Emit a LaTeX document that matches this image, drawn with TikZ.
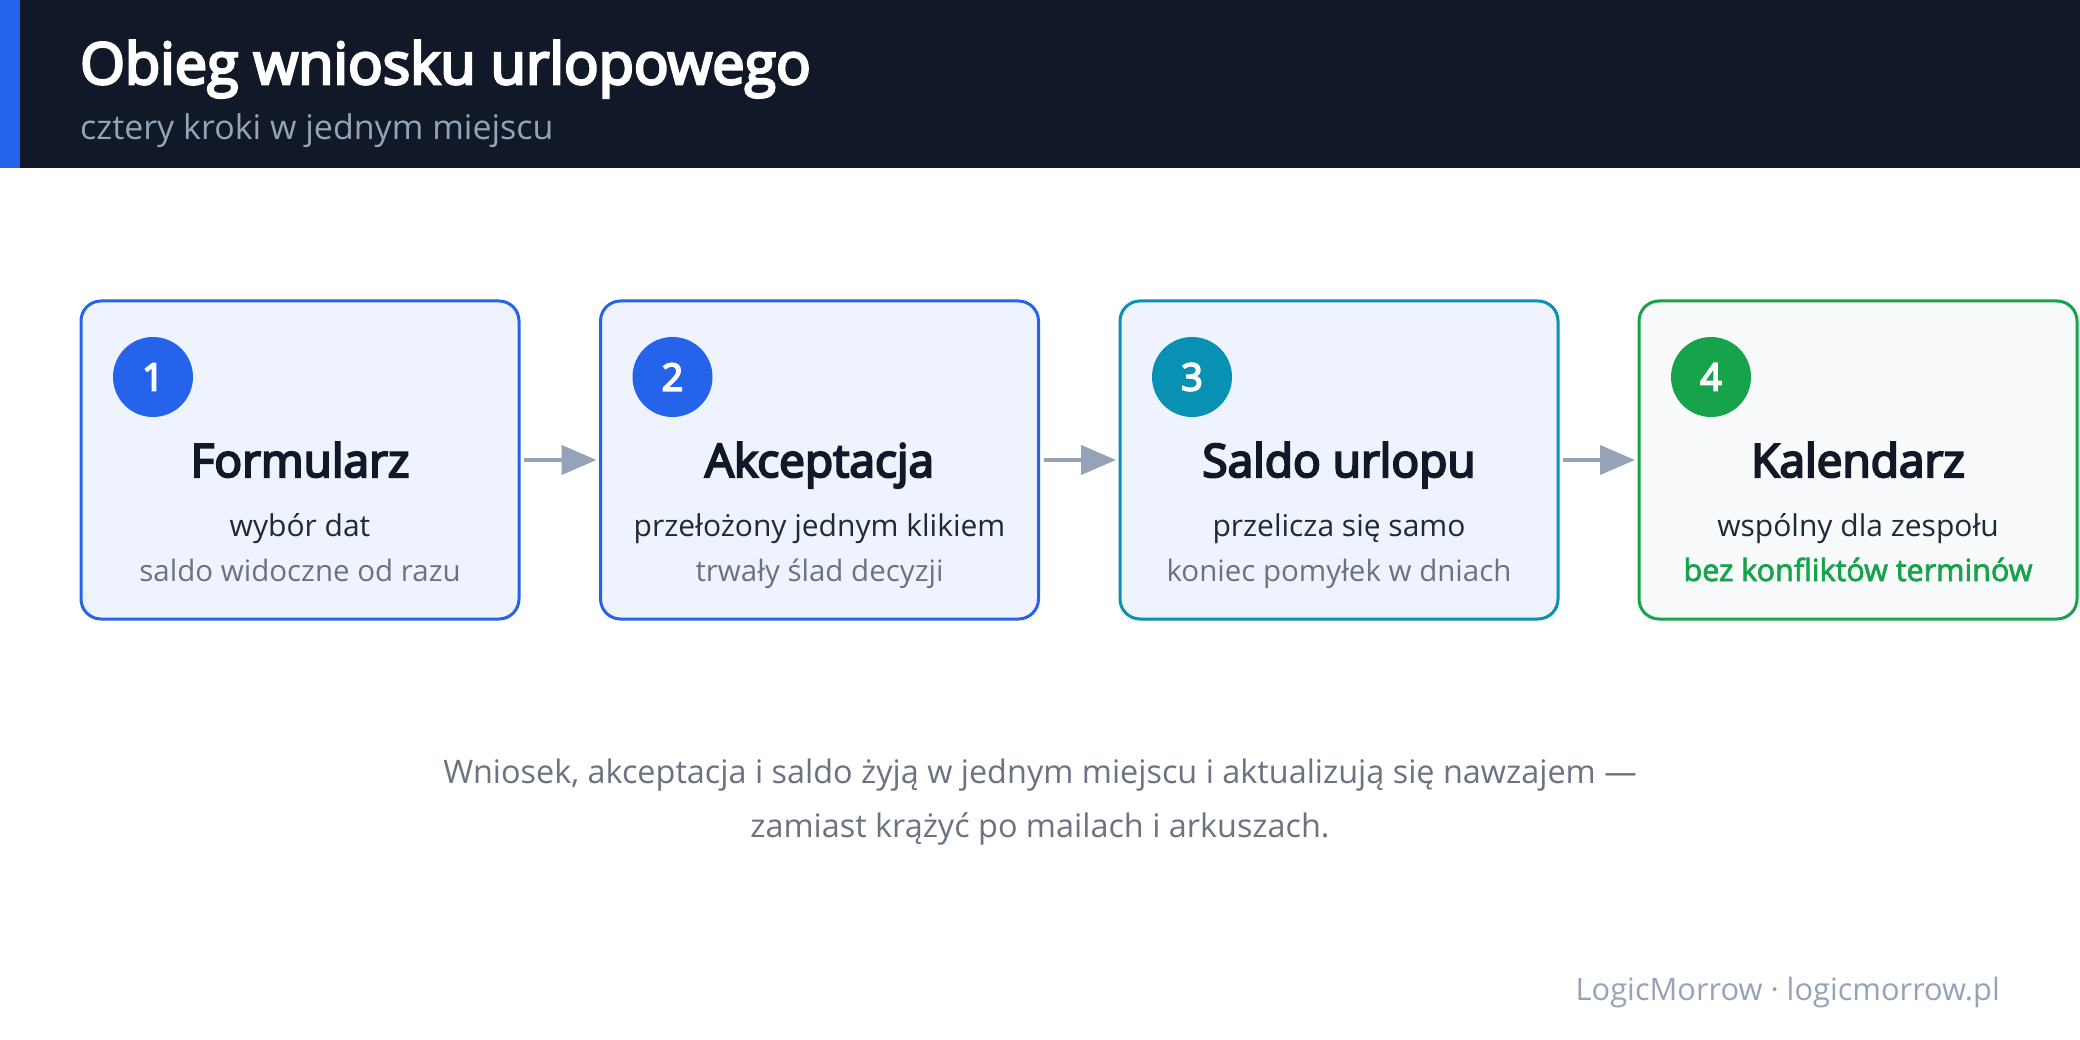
\documentclass[tikz,border=0pt]{standalone}
\usepackage{fontspec}
\setmainfont{Open Sans}[AutoFakeBold=2.5]
\newfontfamily\heavyfont{Open Sans}[AutoFakeBold=4.5, BoldFeatures={FakeBold=2}]
\usetikzlibrary{arrows.meta}
\definecolor{hdr}{HTML}{111827}
\definecolor{cblue}{HTML}{2563EB}
\definecolor{ccyan}{HTML}{0891B2}
\definecolor{cgreen}{HTML}{16A34A}
\definecolor{fillb}{HTML}{EEF3FE}
\definecolor{fillg}{HTML}{F8FAFC}
\definecolor{txtdark}{HTML}{111827}
\definecolor{txtmid}{HTML}{1F2937}
\definecolor{txtgray}{HTML}{6B7280}
\definecolor{slate}{HTML}{94A3B8}
\tikzset{
  stepbox/.style={draw, rounded corners=20pt, line width=3pt, minimum width=438pt, minimum height=318pt, inner sep=0pt, outer sep=0pt},
  numdot/.style={circle, minimum size=80pt, inner sep=0pt, outer sep=0pt, text=white, font=\heavyfont\fontsize{38}{40}\selectfont\bfseries},
  steptitle/.style={anchor=base, inner sep=0pt, text=txtdark, font=\heavyfont\fontsize{46}{52}\selectfont\bfseries},
  lineone/.style={anchor=base, inner sep=0pt, text=txtmid, font=\fontsize{30}{36}\selectfont},
  linetwo/.style={anchor=base, inner sep=0pt, text=txtgray, font=\fontsize{29.5}{35}\selectfont},
  flow/.style={draw=slate, line width=4pt, -{Triangle[length=35pt, width=29pt]}, shorten >=4pt, shorten <=5pt}
}
\begin{document}
\begin{tikzpicture}[x=1pt, y=-1pt]
\useasboundingbox (0,0) rectangle (2080,1040);
\fill[white] (0,0) rectangle (2080,1040);
% header
\fill[hdr] (0,0) rectangle (2080,168);
\fill[cblue] (0,0) rectangle (20,168);
\node[anchor=base west, inner sep=0pt, text=white, font=\heavyfont\fontsize{57.5}{64}\selectfont\bfseries] (title) at (80,84) {Obieg wniosku urlopowego};
\node[anchor=base west, inner sep=0pt, text=slate, font=\fontsize{34}{40}\selectfont] (subtitle) at (80,140) {cztery kroki w jednym miejscu};
% boxes
\node[stepbox, draw=cblue, fill=fillb] (b1) at (300,460) {};
\node[stepbox, draw=cblue, fill=fillb] (b2) at (819.5,460) {};
\node[stepbox, draw=ccyan, fill=fillb] (b3) at (1339,460) {};
\node[stepbox, draw=cgreen, fill=fillg] (b4) at (1858,460) {};
% numbers
\node[numdot, fill=cblue] (n1) at ([shift={(72,76)}]b1.north west) {1};
\node[numdot, fill=cblue] (n2) at ([shift={(72,76)}]b2.north west) {2};
\node[numdot, fill=ccyan] (n3) at ([shift={(72,76)}]b3.north west) {3};
\node[numdot, fill=cgreen] (n4) at ([shift={(72,76)}]b4.north west) {4};
% texts
\node[steptitle] (t1) at (300,477) {Formularz};
\node[lineone] (l1a) at (300,536) {wybór dat};
\node[linetwo] (l1b) at (300,581) {saldo widoczne od razu};
\node[steptitle] (t2) at (819.5,477) {Akceptacja};
\node[lineone] (l2a) at (819.5,536) {przełożony jednym klikiem};
\node[linetwo] (l2b) at (819.5,581) {trwały ślad decyzji};
\node[steptitle] (t3) at (1339,477) {Saldo urlopu};
\node[lineone] (l3a) at (1339,536) {przelicza się samo};
\node[linetwo] (l3b) at (1339,581) {koniec pomyłek w dniach};
\node[steptitle] (t4) at (1858,477) {Kalendarz};
\node[lineone] (l4a) at (1858,536) {wspólny dla zespołu};
\node[linetwo, text=cgreen, font=\fontsize{30.5}{35}\selectfont\bfseries] (l4b) at (1858,581) {bez konfliktów terminów};
% arrows
\draw[flow] (b1.east) -- (b2.west);
\draw[flow] (b2.east) -- (b3.west);
\draw[flow] (b3.east) -- (b4.west);
% bottom note
\node[anchor=base, inner sep=0pt, text=txtgray, font=\fontsize{32.4}{38}\selectfont] (note1) at (1040,783) {Wniosek, akceptacja i saldo żyją w jednym miejscu i aktualizują się nawzajem —};
\node[anchor=base, inner sep=0pt, text=txtgray, font=\fontsize{32.4}{38}\selectfont] (note2) at (1040,837) {zamiast krążyć po mailach i arkuszach.};
% footer
\node[anchor=base east, inner sep=0pt, text=slate, font=\fontsize{30.8}{36}\selectfont] (footer) at (2000,1000) {LogicMorrow · logicmorrow.pl};
\end{tikzpicture}
\end{document}
